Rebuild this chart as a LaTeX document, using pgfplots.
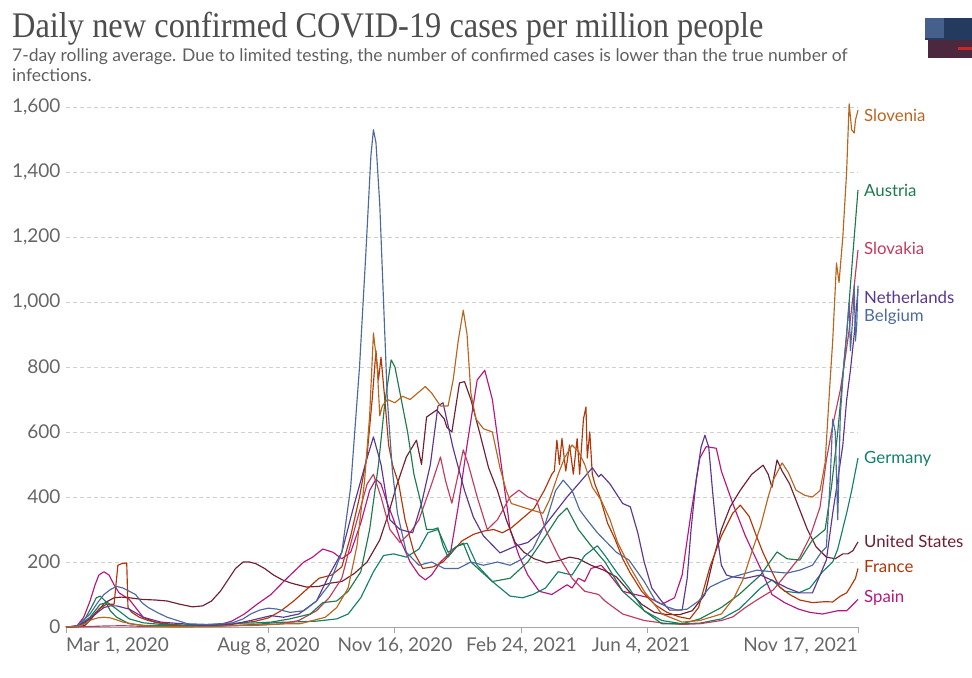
\documentclass[border=0pt]{standalone}
\usepackage{pgfplots}
\pgfplotsset{compat=1.18}
\usepackage{graphicx}
\usepackage{fontspec}
\setmainfont{Lato}
\newfontfamily\titlefont{Liberation Serif}
\definecolor{cSlovenia}{HTML}{B8661E}
\definecolor{cAustria}{HTML}{1E7A4C}
\definecolor{cSlovakia}{HTML}{C23B5C}
\definecolor{cNetherlands}{HTML}{5A3690}
\definecolor{cBelgium}{HTML}{4C6A9C}
\definecolor{cGermany}{HTML}{12806E}
\definecolor{cUS}{HTML}{6E1F32}
\definecolor{cFrance}{HTML}{B13507}
\definecolor{cSpain}{HTML}{B5177F}
\definecolor{tickgray}{HTML}{666666}
\definecolor{titlegray}{HTML}{4D4D4D}
\begin{document}
\begin{tikzpicture}
\useasboundingbox (0,0) rectangle (972bp,-678bp);
% title and subtitle
\node[anchor=base west,inner sep=0,text=titlegray] at (12bp,-37bp) {\scalebox{0.9}[1]{\titlefont\fontsize{36bp}{40bp}\selectfont Daily new confirmed COVID-19 cases per million people}};
\node[anchor=base west,inner sep=0,text=titlegray!90] at (12bp,-61bp) {\fontsize{17.5bp}{20bp}\selectfont 7-day rolling average. Due to limited testing, the number of confirmed cases is lower than the true number of};
\node[anchor=base west,inner sep=0,text=titlegray!90] at (12bp,-81bp) {\fontsize{17.5bp}{20bp}\selectfont infections.};
% logo fragment
\fill[color={rgb,255:red,36;green,58;blue,94}] (925bp,-18bp) rectangle (972bp,-40bp);
\fill[color={rgb,255:red,70;green,96;blue,140}] (925bp,-18bp) rectangle (944bp,-38bp);
\fill[color={rgb,255:red,76;green,40;blue,62}] (928bp,-40bp) rectangle (972bp,-58bp);
\fill[color={rgb,255:red,200;green,40;blue,40}] (958bp,-47bp) rectangle (972bp,-50bp);
\begin{axis}[
  at={(66bp,-627bp)}, anchor=south west,
  scale only axis, width=792bp, height=520bp,
  xmin=0, xmax=626, ymin=0, ymax=1600, clip=false,
  axis x line*=bottom, axis y line*=left,
  y axis line style={draw=none},
  x axis line style={color=black!35, line width=1bp},
  ytick={0,200,...,1600}, ytick style={draw=none},
  xtick={0,160,260,360,460,626},
  xticklabels={{\makebox[0pt][l]{Mar 1, 2020}},{Aug 8, 2020},{Nov 16, 2020},{Feb 24, 2021},{\hspace*{-14bp}Jun 4, 2021},{\makebox[0pt][r]{Nov 17, 2021}}},
  xtick style={color=black!35, line width=1bp},
  tick align=outside, major tick length=6bp,
  ymajorgrids, grid style={color=black!18, dash pattern=on 4bp off 3bp, line width=0.8bp},
  scaled y ticks=false,
  /pgf/number format/.cd, 1000 sep={,}, assume math mode=true,
  /pgfplots/.cd,
  yticklabel style={font=\fontsize{19bp}{22bp}\selectfont, text=tickgray, anchor=east, xshift=4bp},
  xticklabel style={font=\fontsize{19bp}{22bp}\selectfont, text=tickgray, anchor=north, yshift=-1bp},
  every axis plot/.append style={line width=1.15bp, line join=round, no markers},
]
% Spain
\addplot[cSpain] coordinates {(0,0) (4,1) (9,5) (14,30) (19,80) (23,130) (26,160) (30,170) (34,160) (38,130) (42,105) (46,95) (50,85) (55,60) (61,30) (70,15) (80,8) (92,5) (106,6) (122,8) (131,18) (141,40) (151,70) (162,100) (172,140) (180,170) (188,200) (195,215) (203,240) (211,230) (218,210) (225,230) (233,320) (240,420) (245,455) (249,440) (254,380) (259,330) (264,270) (272,200) (279,160) (284,145) (289,160) (296,200) (304,230) (310,370) (317,560) (325,760) (331,790) (337,700) (344,500) (351,300) (358,220) (365,160) (374,110) (384,100) (396,130) (400,120) (405,150) (410,140) (415,180) (423,190) (430,160) (440,110) (450,100) (461,90) (471,70) (481,90) (487,160) (494,350) (501,520) (506,555) (514,550) (518,480) (527,380) (537,280) (549,180) (558,100) (568,75) (579,55) (588,45) (598,40) (610,50) (617,50) (621,65) (626,85)};
% United States
\addplot[cUS] coordinates {(0,0) (10,1) (15,5) (20,25) (25,50) (31,75) (38,90) (44,92) (50,90) (60,85) (71,83) (80,80) (90,70) (100,62) (108,65) (115,80) (122,110) (128,145) (134,180) (140,200) (145,200) (150,195) (157,180) (164,160) (171,145) (178,135) (190,123) (200,125) (209,135) (218,140) (228,165) (238,200) (248,268) (255,350) (261,431) (269,523) (277,575) (281,500) (285,646) (293,668) (299,640) (301,615) (305,600) (311,751) (315,755) (320,700) (327,597) (334,490) (341,420) (348,330) (355,260) (362,230) (370,210) (380,197) (390,205) (398,215) (405,210) (415,190) (425,175) (435,154) (445,110) (455,70) (465,45) (475,38) (485,38) (495,50) (505,100) (511,200) (518,300) (525,370) (533,421) (542,470) (551,498) (555,470) (558,430) (562,514) (566,480) (572,440) (580,360) (586,300) (593,246) (601,215) (608,210) (614,225) (618,225) (622,235) (626,262)};
% Germany
\addplot[cGermany] coordinates {(0,0) (9,2) (19,30) (27,70) (33,75) (40,55) (50,25) (61,13) (75,8) (92,5) (111,6) (122,5) (136,5) (153,9) (167,14) (184,16) (198,18) (214,25) (223,40) (233,90) (243,170) (251,220) (259,225) (269,215) (279,240) (286,290) (294,300) (302,230) (310,250) (317,258) (325,190) (337,140) (351,95) (361,90) (369,100) (379,120) (389,170) (400,160) (410,220) (420,250) (426,220) (435,170) (445,120) (457,50) (471,20) (487,10) (501,12) (518,25) (532,55) (549,120) (558,145) (568,110) (579,105) (588,120) (598,170) (606,200) (610,240) (617,350) (621,420) (626,520)};
% France
\addplot[cFrance] coordinates {(0,0) (8,2) (14,10) (20,30) (26,55) (32,70) (38,70) (41,190) (44,195) (48,197) (49,60) (52,45) (58,30) (65,20) (75,12) (90,6) (105,5) (120,7) (135,10) (150,18) (160,28) (170,50) (180,80) (190,115) (200,150) (210,160) (218,185) (225,280) (232,400) (238,530) (242,700) (245,850) (247,760) (249,830) (252,700) (255,560) (258,500) (263,440) (268,330) (275,230) (282,180) (290,185) (298,200) (305,230) (313,265) (322,285) (330,295) (338,300) (345,290) (352,305) (361,335) (370,365) (378,420) (384,470) (386,480) (388,575) (390,500) (392,580) (395,480) (398,560) (401,470) (404,580) (406,470) (409,640) (411,677) (412,520) (414,600) (416,470) (418,440) (422,400) (428,320) (434,270) (440,210) (446,166) (455,110) (465,70) (475,45) (485,31) (493,25) (500,60) (509,185) (518,280) (527,350) (533,375) (540,340) (546,277) (551,228) (558,170) (564,123) (572,100) (580,83) (590,75) (600,78) (606,77) (612,95) (617,105) (621,130) (624,150) (626,180)};
% Slovakia
\addplot[cSlovakia] coordinates {(0,0) (15,1) (30,3) (45,4) (60,2) (90,1) (120,3) (150,5) (170,10) (184,20) (198,50) (208,90) (218,150) (228,300) (238,440) (243,470) (249,400) (256,300) (264,260) (272,290) (279,330) (289,440) (296,523) (300,450) (305,381) (310,470) (314,545) (318,500) (325,400) (333,300) (341,330) (351,400) (358,421) (365,400) (372,390) (379,300) (389,220) (400,150) (410,110) (421,100) (426,80) (440,40) (457,20) (472,12) (487,8) (501,10) (518,20) (527,31) (537,60) (546,83) (559,114) (570,166) (580,215) (588,277) (596,369) (601,514) (606,620) (612,729) (616,830) (619,914) (623,1050) (626,1160)};
% Austria
\addplot[cAustria] coordinates {(0,0) (9,3) (15,25) (20,60) (24,90) (27,95) (31,80) (35,50) (40,30) (50,10) (61,5) (91,4) (122,8) (131,12) (146,12) (162,15) (177,25) (193,40) (203,75) (214,80) (223,110) (233,170) (240,300) (247,500) (252,690) (257,822) (260,800) (263,740) (266,680) (270,600) (275,470) (280,390) (285,300) (290,300) (294,305) (298,250) (302,215) (308,246) (314,258) (320,200) (327,175) (337,140) (351,150) (365,200) (379,280) (389,340) (396,366) (405,300) (415,250) (426,200) (440,110) (457,50) (471,10) (487,10) (501,25) (518,60) (532,100) (549,160) (562,231) (570,210) (580,206) (590,268) (600,300) (605,430) (610,600) (617,900) (622,1150) (626,1345)};
% Netherlands
\addplot[cNetherlands] coordinates {(0,0) (9,2) (19,25) (25,45) (30,60) (35,65) (40,65) (50,55) (61,30) (75,15) (92,10) (111,4) (131,8) (146,20) (162,35) (172,30) (184,40) (198,80) (208,160) (218,230) (228,380) (238,520) (243,585) (249,500) (256,330) (264,300) (274,290) (281,380) (288,500) (294,680) (298,690) (306,550) (315,420) (322,338) (330,280) (343,228) (356,250) (365,260) (374,290) (384,340) (396,400) (405,440) (416,490) (421,462) (423,470) (430,440) (440,380) (446,370) (452,289) (457,200) (463,120) (470,83) (477,52) (487,52) (491,150) (494,298) (498,450) (502,554) (505,590) (508,554) (511,420) (514,300) (518,190) (522,160) (527,154) (537,150) (549,160) (560,140) (570,120) (580,105) (590,105) (596,160) (601,206) (606,350) (610,452) (614,560) (617,698) (620,790) (623,900) (626,1040)};
% Belgium
\addplot[cBelgium] coordinates {(0,0) (9,3) (19,40) (25,75) (30,100) (35,115) (40,125) (45,120) (50,110) (55,100) (60,75) (65,60) (72,45) (80,30) (96,10) (111,8) (131,12) (140,25) (146,40) (153,52) (160,58) (167,55) (177,45) (188,50) (198,80) (208,130) (218,230) (225,430) (232,800) (237,1150) (241,1450) (243,1530) (245,1490) (248,1300) (251,1000) (254,700) (258,480) (262,350) (269,230) (279,190) (289,200) (299,180) (310,180) (320,200) (330,190) (341,200) (351,190) (361,210) (369,240) (379,320) (387,420) (393,452) (400,420) (406,360) (412,329) (420,290) (428,258) (435,230) (445,206) (457,140) (466,80) (475,62) (483,52) (491,55) (500,80) (509,123) (518,140) (527,154) (537,165) (546,175) (558,170) (570,166) (580,175) (590,190) (597,230) (601,246) (604,450) (606,640) (608,600) (610,330) (612,650) (615,820) (617,900) (619,1000) (620,850) (622,960) (623,1050) (624,880) (625,930) (626,1050)};
% Slovenia
\addplot[cSlovenia] coordinates {(0,0) (10,2) (15,10) (20,22) (25,28) (30,30) (35,28) (40,22) (45,15) (55,8) (65,3) (80,1) (100,1) (120,2) (135,5) (150,6) (165,8) (175,10) (185,10) (195,20) (205,30) (214,60) (223,120) (230,250) (236,450) (240,650) (243,905) (246,800) (248,650) (250,680) (254,700) (260,690) (266,710) (272,700) (278,720) (284,740) (289,720) (296,680) (302,680) (306,760) (310,880) (314,975) (317,900) (320,720) (324,640) (330,610) (337,600) (343,490) (348,420) (352,380) (360,370) (368,360) (377,350) (382,390) (389,470) (394,520) (400,560) (405,540) (410,500) (416,430) (423,390) (430,330) (436,260) (445,190) (457,110) (471,40) (487,15) (501,20) (518,40) (528,90) (535,145) (542,230) (549,310) (555,400) (559,452) (566,505) (571,475) (577,421) (584,405) (590,400) (596,420) (600,505) (604,760) (606,880) (609,1120) (611,1060) (614,1200) (617,1400) (619,1610) (621,1530) (623,1520) (624,1560) (626,1590)};
\end{axis}
% line labels
\begin{scope}[every node/.style={anchor=west,inner sep=0,font=\fontsize{16.8bp}{19bp}\selectfont}]
\node[text=cSlovenia] at (864bp,-115bp) {Slovenia};
\node[text=cAustria] at (864bp,-190bp) {Austria};
\node[text=cSlovakia] at (864bp,-248bp) {Slovakia};
\node[text=cNetherlands] at (864bp,-297bp) {Netherlands};
\node[text=cBelgium] at (864bp,-317bp) {Belgium};
\node[text=cGermany] at (864bp,-459bp) {Germany};
\node[text=cUS] at (864bp,-541bp) {United States};
\node[text=cFrance] at (864bp,-567bp) {France};
\node[text=cSpain] at (864bp,-598bp) {Spain};
\end{scope}
\end{tikzpicture}
\end{document}
